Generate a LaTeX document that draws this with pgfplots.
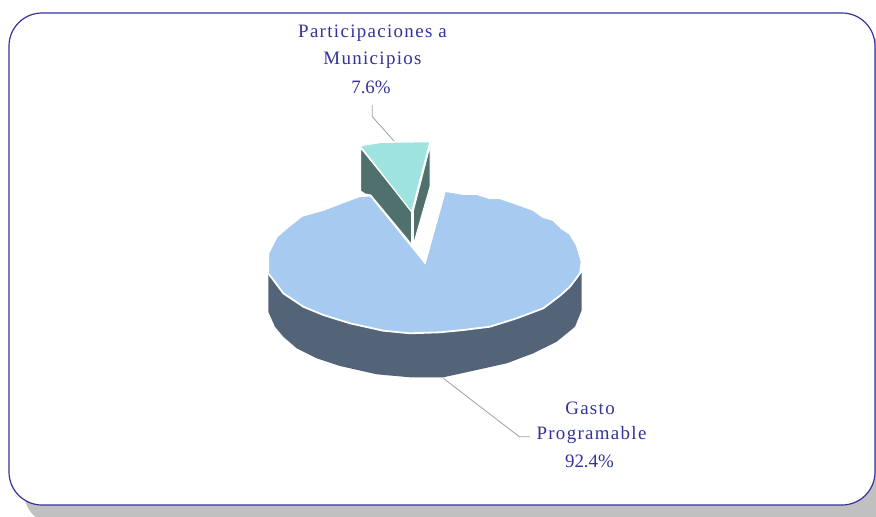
\documentclass[border=0pt]{standalone}
\usepackage{pgfplots}
\pgfplotsset{compat=1.18}
\usepackage{fontspec}
\setmainfont{Liberation Serif}[LetterSpace=7]
\definecolor{txtblue}{RGB}{51,51,153}
\definecolor{shadowgray}{RGB}{192,192,192}
\definecolor{bigtop}{RGB}{166,202,240}
\definecolor{bigside}{RGB}{83,100,121}
\definecolor{smalltop}{RGB}{158,227,224}
\definecolor{smallside}{RGB}{80,112,110}
\definecolor{leader}{RGB}{160,160,160}
\tikzset{
  lab/.style={text=txtblue, font=\fontsize{19}{21}\selectfont, align=center, anchor=center},
  num/.style={lab, font=\fontsize{19}{21}\selectfont\addfontfeature{LetterSpace=0}},
}
\begin{document}
\begin{tikzpicture}
\useasboundingbox (0,0) rectangle (876bp,517bp);
\begin{axis}[
  scale only axis,
  width=876bp, height=517bp,
  at={(0,0)}, anchor=south west,
  xmin=0, xmax=876, ymin=0, ymax=517,
  y dir=reverse,
  axis lines=none,
  clip=true,
]
% panel and its shadow
\fill[shadowgray, rounded corners=33bp] (axis cs:24,33) rectangle (axis cs:890,525);
\draw[txtblue, fill=white, line width=1.2bp, rounded corners=33bp] (axis cs:9,13) rectangle (axis cs:875,505);

% Gasto Programable, side wall
\addplot[fill=bigside, draw=none] coordinates {
  (268.3,273) (268.3,311.7) (275,326.7) (283.3,336.7) (296.7,348.3) (316.7,358.3)
  (340,366) (376.7,374.3) (410,377.3) (443.3,377.3) (476.7,370) (506.7,363.3)
  (533.3,353.3) (556.7,341.7) (575,326.7) (581.7,310) (581.7,273)
} -- cycle;
% Gasto Programable, top
\addplot[fill=bigtop, draw=white, line width=1.8bp] coordinates {
  (425,262.7) (445,191) (453.3,192.3) (463.3,194) (476.7,194) (490,198.3) (500,198.3)
  (513.3,202.7) (533.3,210) (543,217) (553,220) (561.7,228.3) (570,234) (576.7,245)
  (581.7,261.7) (580,273.3) (570,286.7) (560,295.7) (543.3,308.3) (516.7,318.3)
  (490,326.7) (463.3,330) (440,332.3) (410,333.3) (383.3,330.7) (350,323.3)
  (323.3,315) (303.3,306.7) (283.3,293.3) (268.3,273.3) (268.3,253.3) (276.7,236.7)
  (288.3,226.7) (301.7,216) (323,210) (360,196) (370.7,195.7)
} -- cycle;

% Participaciones a Municipios, side walls
\addplot[fill=smallside, draw=white, line width=1bp] coordinates {
  (360.7,148) (360.7,191) (365,194) (370.7,195) (411.7,244.5) (411.7,211)
} -- cycle;
\addplot[fill=smallside, draw=white, line width=1bp] coordinates {
  (430,146) (430,186.7) (413.3,245) (413.3,211)
} -- cycle;
% Participaciones a Municipios, top
\addplot[fill=smalltop, draw=white, line width=1.2bp] coordinates {
  (360,145.7) (381.7,142.3) (430,141.7) (411.7,212)
} -- cycle;

% leader lines
\addplot[leader, line width=0.8bp] coordinates {(372.3,105) (372.3,116.7) (394,141)};
\addplot[leader, line width=0.8bp] coordinates {(443.3,378.3) (519.3,436.7) (530,436.7)};

% labels
\node[lab] at (axis cs:372.5,33) {Participaciones a};
\node[lab] at (axis cs:372.5,60) {Municipios};
\node[num] at (axis cs:371,87) {7.6\%};
\node[lab] at (axis cs:590,408) {Gasto};
\node[lab] at (axis cs:591.5,435) {Programable};
\node[num] at (axis cs:589.5,461) {92.4\%};
\end{axis}
\end{tikzpicture}
\end{document}
